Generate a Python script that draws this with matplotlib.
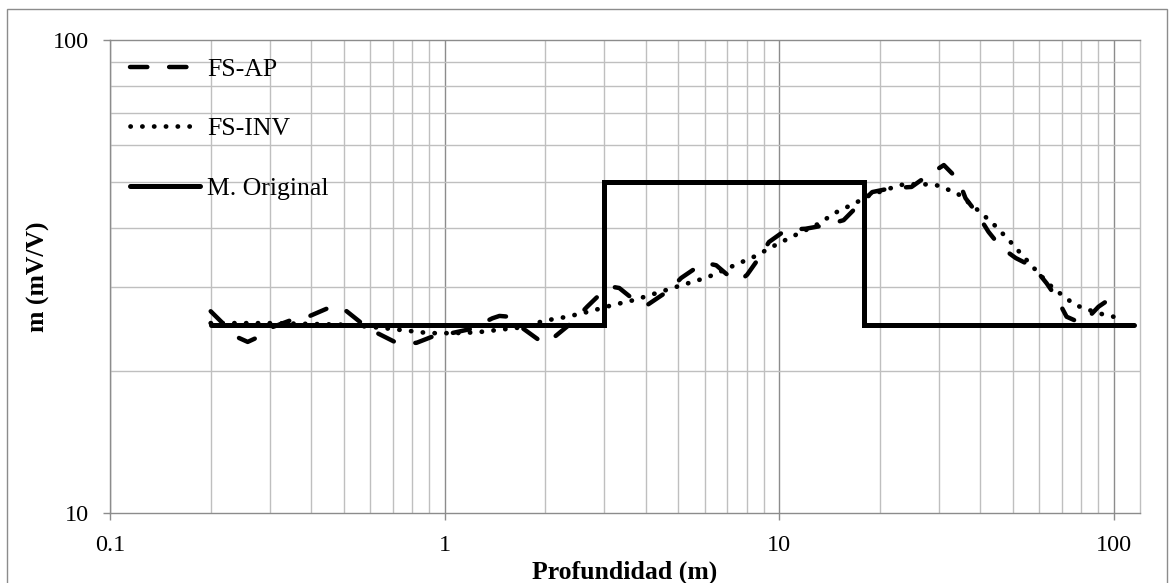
from __future__ import annotations

import matplotlib

matplotlib.use("Agg")
import matplotlib.pyplot as plt
from matplotlib.patches import Rectangle
from matplotlib.ticker import FixedFormatter, FixedLocator, LogLocator, NullFormatter

# Depth (m) / chargeability (mV/V) samples for each model
fs_ap_depth = [
    0.200, 0.216, 0.238, 0.258, 0.272, 0.305, 0.344, 0.396, 0.448, 0.476,
    0.510, 0.565, 0.630, 0.710, 0.760, 0.825, 0.920, 1.05, 1.20, 1.39,
    1.46, 1.56, 1.71, 1.95, 2.03, 2.20, 2.41, 2.67, 2.96, 3.15,
    3.33, 3.69, 4.03, 4.70, 5.10, 5.69, 6.01, 6.49, 7.19, 7.70,
    8.03, 8.71, 9.33, 10.5, 12.0, 13.8, 15.6, 17.3, 19.0, 21.6,
    24.9, 27.7, 31.1, 34.4, 36.1, 39.0, 42.3, 46.0, 51.0, 57.7,
    63.1, 67.6, 72.4, 77.0, 81.4, 90.2, 100.0,
]
fs_ap_value = [
    26.7, 25.3, 23.6, 23.0, 23.4, 24.7, 25.5, 26.1, 27.1, 27.4,
    26.7, 25.2, 24.0, 23.0, 22.8, 22.9, 23.6, 24.0, 24.5, 25.8,
    26.1, 26.0, 24.6, 23.0, 22.9, 24.0, 25.3, 27.3, 29.3, 30.1,
    29.9, 28.2, 27.5, 29.6, 31.4, 33.1, 33.8, 33.4, 31.4, 31.1,
    31.9, 34.6, 37.4, 39.7, 39.9, 40.6, 41.6, 44.8, 47.7, 48.6,
    48.9, 51.6, 54.4, 50.6, 46.3, 43.1, 39.3, 36.5, 34.6, 33.1,
    30.6, 28.5, 26.0, 25.5, 25.3, 27.3, 28.7,
]

fs_inv_depth = [
    0.200, 0.300, 0.400, 0.510, 0.660, 0.770, 0.900, 1.06, 1.25, 1.46,
    1.71, 1.99, 2.33, 2.73, 3.17, 3.69, 4.32, 5.03, 5.85, 6.31,
    7.29, 8.48, 9.79, 11.2, 12.9, 14.9, 17.1, 18.2, 19.9, 23.1,
    26.2, 29.4, 31.7, 34.0, 38.7, 43.5, 48.6, 53.9, 60.5, 65.3,
    71.9, 77.1, 83.0, 89.0, 100.0,
]
fs_inv_value = [
    25.2, 25.2, 25.1, 25.0, 24.6, 24.3, 24.0, 24.0, 24.1, 24.4,
    24.7, 25.5, 26.0, 26.7, 27.5, 28.2, 29.2, 30.2, 31.2, 31.8,
    33.3, 34.9, 36.9, 38.7, 40.6, 43.3, 45.4, 46.6, 47.7, 49.4,
    49.6, 49.4, 48.4, 47.5, 44.1, 41.0, 37.8, 34.8, 31.8, 30.1,
    28.5, 27.5, 27.0, 26.5, 26.0,
]

orig_depth = [0.2, 3.0, 3.0, 18.0, 18.0, 115.0]
orig_value = [25.0, 25.0, 50.0, 50.0, 25.0, 25.0]

series_labels = ["FS-AP", "FS-INV", "M. Original"]
x_ticks = [0.1, 1, 10, 100]
x_tick_labels = ["0.1", "1", "10", "100"]
y_ticks = [10, 100]
y_tick_labels = ["10", "100"]


def main() -> None:
    plt.rcParams["font.family"] = ["Liberation Serif", "DejaVu Serif"]

    fig = plt.figure(figsize=(11.75, 5.83), dpi=100)
    ax = fig.add_axes([110 / 1175, 1 - 513 / 583, 1030 / 1175, 473 / 583])

    minor_grey = "#BFBFBF"
    major_grey = "#8C8C8C"

    ax.set_xscale("log")
    ax.set_yscale("log")
    ax.set_xlim(0.1, 120)
    ax.set_ylim(10, 100)

    ax.xaxis.set_major_locator(FixedLocator(x_ticks))
    ax.xaxis.set_major_formatter(FixedFormatter(x_tick_labels))
    ax.yaxis.set_major_locator(FixedLocator(y_ticks))
    ax.yaxis.set_major_formatter(FixedFormatter(y_tick_labels))
    for axis in (ax.xaxis, ax.yaxis):
        axis.set_minor_locator(LogLocator(base=10, subs=range(2, 10)))
        axis.set_minor_formatter(NullFormatter())

    ax.grid(which="minor", color=minor_grey, linewidth=1.0)
    ax.grid(which="major", axis="x", color=major_grey, linewidth=1.0)
    ax.set_axisbelow(True)

    ax.tick_params(which="major", direction="out", length=5, width=1.0, color=major_grey,
                   labelsize=17.5)
    ax.tick_params(axis="x", which="major", pad=11)
    ax.tick_params(axis="y", which="major", pad=10)
    ax.tick_params(which="minor", length=0)

    ax.spines["left"].set_color(major_grey)
    ax.spines["bottom"].set_color(major_grey)
    ax.spines["top"].set_color(major_grey)
    ax.spines["right"].set_color(minor_grey)
    for spine in ax.spines.values():
        spine.set_linewidth(1.0)

    ap_line, = ax.plot(fs_ap_depth, fs_ap_value, color="black", linewidth=3.2,
                       linestyle=(0, (3.9, 4.9)), dash_capstyle="round",
                       solid_joinstyle="round")
    inv_line, = ax.plot(fs_inv_depth, fs_inv_value, color="black", linewidth=3.4,
                        linestyle=(0, (0.05, 2.45)), dash_capstyle="round")
    orig_line, = ax.plot(orig_depth, orig_value, color="black", linewidth=3.6,
                         solid_capstyle="round", solid_joinstyle="miter")

    ax.legend([ap_line, inv_line, orig_line], series_labels, loc="upper left",
              bbox_to_anchor=(0.019, 0.962), frameon=False, fontsize=18.5,
              handlelength=2.75, handletextpad=0.28, labelspacing=1.42,
              borderpad=0, borderaxespad=0)

    ax.set_xlabel("Profundidad (m)", fontsize=18.5, fontweight="bold", labelpad=3)
    ax.set_ylabel("m (mV/V)", fontsize=18.5, fontweight="bold", labelpad=2)

    # thin grey border round the whole chart area
    fig.patches.append(Rectangle((7 / 1175, -0.02), 1160 / 1175, 1.02 - 9 / 583,
                                 transform=fig.transFigure, fill=False,
                                 edgecolor="#8C8C8C", linewidth=1.0))

    fig.savefig("out.png", dpi=100)
    plt.close(fig)


if __name__ == "__main__":
    main()
